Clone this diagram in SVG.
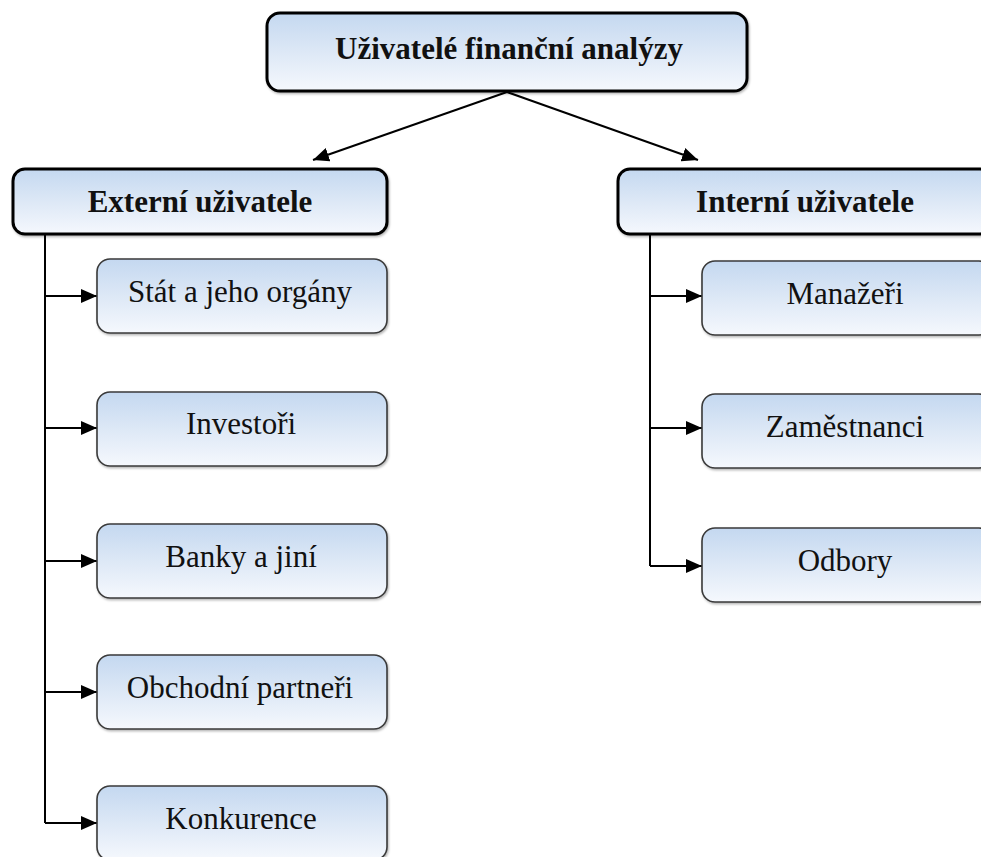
<svg xmlns="http://www.w3.org/2000/svg" width="981" height="857" viewBox="0 0 981 857">
  <defs>
    <linearGradient id="boxFill" x1="0" y1="0" x2="0" y2="1">
      <stop offset="0" stop-color="#c4d8f0"/>
      <stop offset="0.5" stop-color="#dde8f6"/>
      <stop offset="1" stop-color="#f5f8fd"/>
    </linearGradient>
    <filter id="shadow" x="-5%" y="-10%" width="110%" height="125%">
      <feDropShadow dx="1" dy="1.5" stdDeviation="1.2" flood-color="#000" flood-opacity="0.3"/>
    </filter>
    <marker id="arrow" markerUnits="userSpaceOnUse" markerWidth="17" markerHeight="14" refX="16" refY="7" orient="auto">
      <path d="M0,0 L16,7 L0,14 Z" fill="#000"/>
    </marker>
  </defs>
  <style>
    .main rect { fill: url(#boxFill); stroke: #000; stroke-width: 3; filter: url(#shadow); }
    .leaf rect { fill: url(#boxFill); stroke: #3a3a3a; stroke-width: 1.6; filter: url(#shadow); }
    .main text { font-family: "Liberation Serif", "Times New Roman", serif; font-weight: bold; font-size: 31px; fill: #111; text-anchor: middle; }
    .leaf text { font-family: "Liberation Serif", "Times New Roman", serif; font-size: 31px; fill: #111; text-anchor: middle; }
    #connectors line, #connectors path { stroke: #000; stroke-width: 2; fill: none; }
  </style>

  <!-- connectors -->
  <g id="connectors">
    <line x1="507" y1="92" x2="313" y2="160" marker-end="url(#arrow)"/>
    <line x1="507" y1="92" x2="698" y2="160" marker-end="url(#arrow)"/>
    <!-- external branch -->
    <path d="M45,234 V823"/>
    <line x1="45" y1="296" x2="97" y2="296" marker-end="url(#arrow)"/>
    <line x1="45" y1="428" x2="97" y2="428" marker-end="url(#arrow)"/>
    <line x1="45" y1="561" x2="97" y2="561" marker-end="url(#arrow)"/>
    <line x1="45" y1="692" x2="97" y2="692" marker-end="url(#arrow)"/>
    <line x1="45" y1="823" x2="97" y2="823" marker-end="url(#arrow)"/>
    <!-- internal branch -->
    <path d="M650,234 V566"/>
    <line x1="650" y1="296" x2="702" y2="296" marker-end="url(#arrow)"/>
    <line x1="650" y1="428" x2="702" y2="428" marker-end="url(#arrow)"/>
    <line x1="650" y1="566" x2="702" y2="566" marker-end="url(#arrow)"/>
  </g>

  <!-- root -->
  <g id="root" class="main">
    <rect x="267" y="13" width="480" height="78" rx="13"/>
    <text x="509" y="59">Uživatelé finanční analýzy</text>
  </g>

  <!-- group heads -->
  <g id="externi" class="main">
    <rect x="13" y="169" width="374" height="65" rx="12"/>
    <text x="200" y="212">Externí uživatele</text>
  </g>
  <g id="interni" class="main">
    <rect x="618" y="169" width="374" height="65" rx="12"/>
    <text x="805" y="212">Interní uživatele</text>
  </g>

  <!-- external users -->
  <g id="stat" class="leaf">
    <rect x="97" y="259" width="290" height="74" rx="13"/>
    <text x="240" y="302">Stát a jeho orgány</text>
  </g>
  <g id="investori" class="leaf">
    <rect x="97" y="392" width="290" height="74" rx="13"/>
    <text x="241" y="434">Investoři</text>
  </g>
  <g id="banky" class="leaf">
    <rect x="97" y="524" width="290" height="74" rx="13"/>
    <text x="241" y="567">Banky a jiní</text>
  </g>
  <g id="obchodni" class="leaf">
    <rect x="97" y="655" width="290" height="74" rx="13"/>
    <text x="240" y="698">Obchodní partneři</text>
  </g>
  <g id="konkurence" class="leaf">
    <rect x="97" y="786" width="290" height="74" rx="13"/>
    <text x="241" y="829">Konkurence</text>
  </g>

  <!-- internal users -->
  <g id="manazeri" class="leaf">
    <rect x="702" y="261" width="290" height="74" rx="13"/>
    <text x="845" y="304">Manažeři</text>
  </g>
  <g id="zamestnanci" class="leaf">
    <rect x="702" y="394" width="290" height="74" rx="13"/>
    <text x="845" y="437">Zaměstnanci</text>
  </g>
  <g id="odbory" class="leaf">
    <rect x="702" y="528" width="290" height="74" rx="13"/>
    <text x="845" y="571">Odbory</text>
  </g>
</svg>
